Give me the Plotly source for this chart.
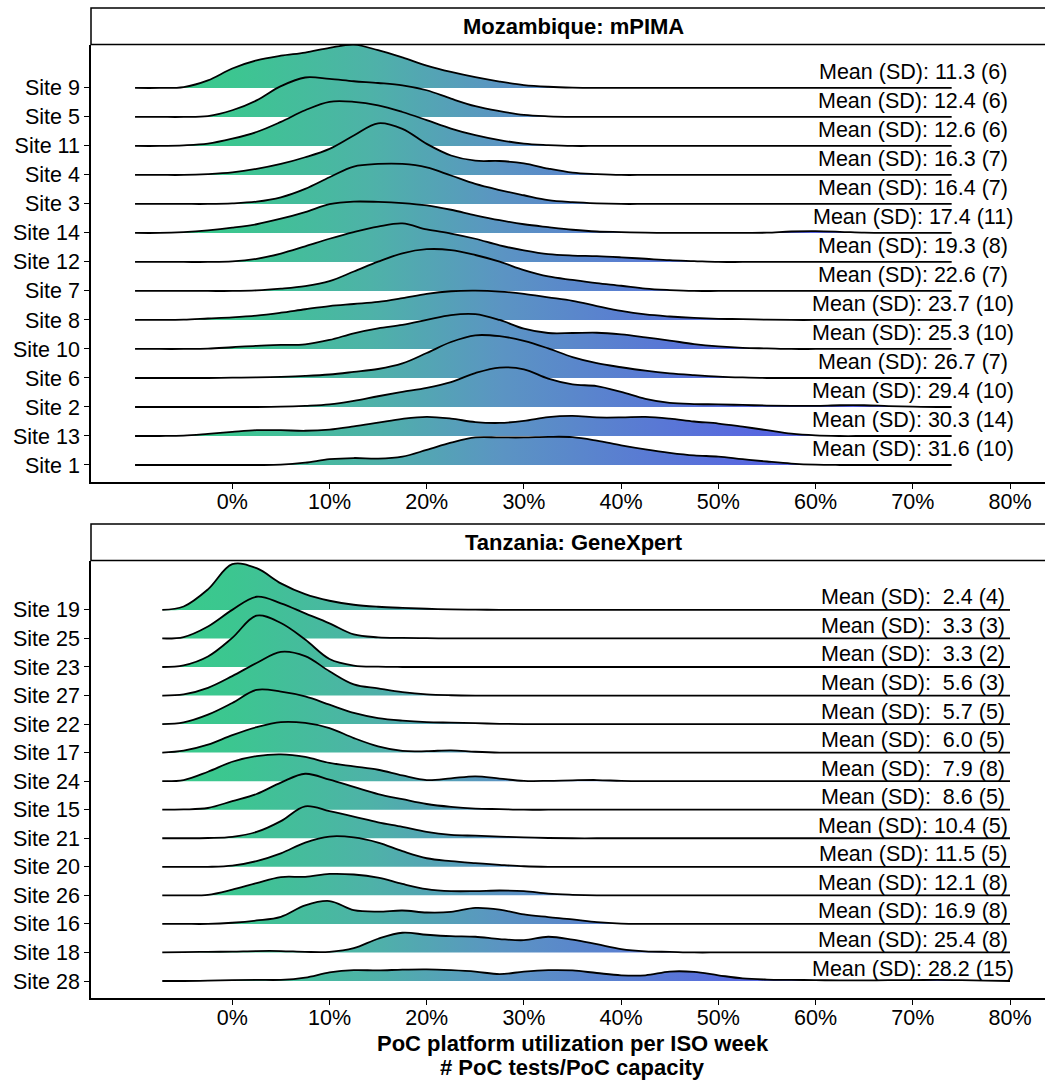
import plotly.graph_objects as go

# ---------------- data ----------------
MOZ_SITES = ["Site 9", "Site 5", "Site 11", "Site 4", "Site 3", "Site 14", "Site 12",
             "Site 7", "Site 8", "Site 10", "Site 6", "Site 2", "Site 13", "Site 1"]
MOZ_MEAN = [11.3, 12.4, 12.6, 16.3, 16.4, 17.4, 19.3, 22.6, 23.7, 25.3, 26.7, 29.4, 30.3, 31.6]
MOZ_SD = [6, 6, 6, 7, 7, 11, 8, 7, 10, 10, 7, 10, 14, 10]

TZ_SITES = ["Site 19", "Site 25", "Site 23", "Site 27", "Site 22", "Site 17", "Site 24",
            "Site 15", "Site 21", "Site 20", "Site 26", "Site 16", "Site 18", "Site 28"]
TZ_MEAN = [2.4, 3.3, 3.3, 5.6, 5.7, 6.0, 7.9, 8.6, 10.4, 11.5, 12.1, 16.9, 25.4, 28.2]
TZ_SD = [4, 3, 2, 3, 5, 5, 8, 5, 5, 5, 8, 8, 8, 15]

# x grid (% utilization) at which ridge heights were read
MOZ_X = [-10, -7.5, -5, -2.5, 0, 2.5, 5, 7.5, 10, 12.5, 15, 17.5, 20, 22.5, 25, 27.5,
         30, 32.5, 35, 37.5, 40, 42.5, 45, 47.5, 50, 52.5, 55, 57.5, 60, 62.5, 65,
         67.5, 70, 72.5, 74]
TZ_X = [-7.2, -5, -2.5, 0, 2.5, 5, 7.5, 10, 12.5, 15, 17.5, 20, 22.5, 25, 27.5, 30,
        32.5, 35, 37.5, 40, 42.5, 45, 47.5, 50, 52.5, 55, 57.5, 60, 62.5, 65, 67.5,
        70, 72.5, 75, 77.5, 80]

# scaled density heights (in ridge-row units); trailing zeros omitted
MOZ_SITE_9 = [0, 0, 0.03, 0.26, 0.67, 0.95, 1.11, 1.22, 1.38, 1.49, 1.3, 1.05, 0.77, 0.55, 0.37, 0.22, 0.1, 0.04, 0.01]
MOZ_SITE_5 = [0, 0, 0, 0.03, 0.23, 0.57, 1.06, 1.36, 1.31, 1.23, 1.17, 1.09, 0.92, 0.63, 0.37, 0.2, 0.07, 0.02]
MOZ_SITE_11 = [0, 0, 0.02, 0.08, 0.25, 0.48, 0.83, 1.23, 1.52, 1.52, 1.4, 1.17, 0.89, 0.6, 0.37, 0.2, 0.08, 0.03]
MOZ_SITE_4 = [0, 0, 0, 0.03, 0.09, 0.21, 0.38, 0.61, 0.9, 1.36, 1.78, 1.59, 1.07, 0.67, 0.49, 0.48, 0.4, 0.22, 0.08, 0.03]
MOZ_SITE_3 = [0, 0, 0, 0, 0.02, 0.08, 0.23, 0.52, 0.92, 1.29, 1.38, 1.38, 1.26, 0.98, 0.69, 0.48, 0.3, 0.13, 0.06, 0.02]
MOZ_SITE_14 = [0, 0, 0.03, 0.09, 0.18, 0.3, 0.49, 0.72, 0.99, 1.08, 1.07, 1.03, 0.95, 0.8, 0.61, 0.44, 0.3, 0.2, 0.11,
               0.05, 0.03, 0.01, 0, 0, 0, 0, 0.01, 0.05, 0.06, 0.04, 0.01]
MOZ_SITE_12 = [0, 0, 0, 0, 0.02, 0.11, 0.29, 0.54, 0.8, 1.03, 1.22, 1.33, 1.12, 0.98, 0.8, 0.57, 0.4, 0.27, 0.22,
               0.2, 0.16, 0.11, 0.06, 0.03]
MOZ_SITE_7 = [0, 0, 0, 0, 0, 0.02, 0.08, 0.17, 0.34, 0.67, 1.01, 1.3, 1.44, 1.41, 1.24, 1.01, 0.72, 0.5, 0.38,
              0.27, 0.18, 0.08, 0.03]
MOZ_SITE_8 = [0, 0, 0.01, 0.05, 0.09, 0.15, 0.25, 0.37, 0.48, 0.55, 0.62, 0.75, 0.9, 0.99, 1.01, 0.98, 0.9, 0.78,
              0.66, 0.48, 0.31, 0.19, 0.12, 0.07, 0.04, 0.03, 0.01]
MOZ_SITE_10 = [0, 0, 0, 0.01, 0.06, 0.11, 0.14, 0.16, 0.31, 0.54, 0.71, 0.83, 1.0, 1.17, 1.2, 1.0, 0.7, 0.55, 0.55,
               0.56, 0.5, 0.4, 0.29, 0.17, 0.09, 0.04, 0.02]
MOZ_SITE_6 = [0, 0, 0, 0, 0.01, 0.02, 0.04, 0.07, 0.12, 0.21, 0.31, 0.5, 0.86, 1.24, 1.47, 1.44, 1.28, 1.02, 0.72,
              0.51, 0.37, 0.25, 0.16, 0.1, 0.05, 0.02]
MOZ_SITE_2 = [0, 0, 0, 0, 0, 0, 0.01, 0.04, 0.09, 0.21, 0.37, 0.52, 0.66, 0.86, 1.17, 1.36, 1.3, 0.98, 0.78, 0.72,
              0.52, 0.28, 0.14, 0.1, 0.09, 0.07, 0.05, 0.04, 0.04, 0.06, 0.06, 0.03, 0.01]
MOZ_SITE_13 = [0, 0, 0.01, 0.07, 0.14, 0.2, 0.2, 0.18, 0.22, 0.33, 0.46, 0.59, 0.66, 0.6, 0.48, 0.45, 0.52, 0.65,
               0.69, 0.64, 0.64, 0.66, 0.6, 0.5, 0.43, 0.32, 0.2, 0.08, 0.02]
MOZ_SITE_1 = [0, 0, 0, 0, 0, 0, 0.01, 0.08, 0.2, 0.24, 0.22, 0.29, 0.52, 0.77, 0.95, 0.95, 0.95, 0.97, 0.96, 0.84,
              0.68, 0.54, 0.42, 0.33, 0.29, 0.2, 0.12, 0.05, 0.01]

TZ_SITE_19 = [0, 0.12, 0.72, 1.6, 1.46, 0.93, 0.55, 0.32, 0.18, 0.11, 0.07, 0.04, 0.02, 0.01]
TZ_SITE_25 = [0, 0.05, 0.42, 1.0, 1.46, 1.23, 0.88, 0.53, 0.14, 0.04, 0.02, 0.01]
TZ_SITE_23 = [0, 0.06, 0.37, 1.02, 1.8, 1.54, 0.96, 0.28, 0.05, 0.01]
TZ_SITE_27 = [0, 0.04, 0.27, 0.68, 1.14, 1.53, 1.38, 0.85, 0.39, 0.25, 0.12, 0.04, 0.01]
TZ_SITE_22 = [0, 0.06, 0.33, 0.74, 1.2, 1.14, 0.97, 0.68, 0.39, 0.21, 0.12, 0.07, 0.05, 0.03, 0.01]
TZ_SITE_17 = [0, 0.07, 0.28, 0.61, 0.89, 1.07, 1.04, 0.86, 0.51, 0.22, 0.06, 0.05, 0.08, 0.03]
TZ_SITE_24 = [0, 0.04, 0.33, 0.68, 0.88, 0.94, 0.85, 0.64, 0.52, 0.4, 0.2, 0.04, 0.1, 0.17, 0.09, 0.01, 0.01,
              0.03, 0.04, 0.01]
TZ_SITE_15 = [0, 0.01, 0.06, 0.3, 0.55, 0.95, 1.26, 1.05, 0.8, 0.55, 0.37, 0.2, 0.1, 0.04, 0.02]
TZ_SITE_21 = [0, 0, 0.01, 0.05, 0.22, 0.6, 1.12, 0.95, 0.76, 0.56, 0.4, 0.22, 0.12, 0.09, 0.06, 0.03, 0.01]
TZ_SITE_20 = [0, 0, 0, 0.04, 0.2, 0.47, 0.85, 1.06, 1.03, 0.85, 0.55, 0.3, 0.2, 0.13, 0.07, 0.02]
TZ_SITE_26 = [0, 0, 0.02, 0.2, 0.43, 0.64, 0.65, 0.75, 0.73, 0.62, 0.4, 0.22, 0.15, 0.15, 0.17, 0.15, 0.06, 0.02]
TZ_SITE_16 = [0, 0, 0, 0.04, 0.12, 0.25, 0.65, 0.8, 0.48, 0.43, 0.47, 0.4, 0.42, 0.56, 0.5, 0.33, 0.24, 0.16,
              0.06, 0.01]
TZ_SITE_18 = [0, 0.01, 0.02, 0.03, 0.05, 0.05, 0.02, 0.02, 0.15, 0.48, 0.69, 0.62, 0.57, 0.55, 0.47, 0.43, 0.55,
              0.45, 0.29, 0.12, 0.04, 0.02]
TZ_SITE_28 = [0, 0, 0.01, 0.03, 0.04, 0.04, 0.12, 0.3, 0.38, 0.37, 0.4, 0.41, 0.38, 0.33, 0.24, 0.33, 0.38, 0.37,
              0.28, 0.2, 0.2, 0.33, 0.32, 0.2, 0.09, 0.05, 0.04, 0.03, 0.02, 0.02, 0.03, 0.03, 0.04, 0.03, 0.01, 0]

MOZ_DENSITY = [MOZ_SITE_9, MOZ_SITE_5, MOZ_SITE_11, MOZ_SITE_4, MOZ_SITE_3, MOZ_SITE_14, MOZ_SITE_12,
               MOZ_SITE_7, MOZ_SITE_8, MOZ_SITE_10, MOZ_SITE_6, MOZ_SITE_2, MOZ_SITE_13, MOZ_SITE_1]
TZ_DENSITY = [TZ_SITE_19, TZ_SITE_25, TZ_SITE_23, TZ_SITE_27, TZ_SITE_22, TZ_SITE_17, TZ_SITE_24,
              TZ_SITE_15, TZ_SITE_21, TZ_SITE_20, TZ_SITE_26, TZ_SITE_16, TZ_SITE_18, TZ_SITE_28]

X_TICKS = [0, 10, 20, 30, 40, 50, 60, 70, 80]
X_TICK_LABELS = ["0%", "10%", "20%", "30%", "40%", "50%", "60%", "70%", "80%"]
PANEL_TITLES = ["Mozambique: mPIMA", "Tanzania: GeneXpert"]
X_TITLE = ["PoC platform utilization per ISO week", "# PoC tests/PoC capacity"]

# ---------------- style ----------------
W, H = 1045, 1081
FONT = "Liberation Sans, Arial, Helvetica, sans-serif"
FILL_SCALE = [[0.0, "rgb(54,206,136)"], [0.111, "rgb(60,198,144)"], [0.27, "rgb(78,178,168)"],
              [0.42, "rgb(91,148,195)"], [0.69, "rgb(88,106,222)"], [1.0, "rgb(72,72,236)"]]
GRAD_START, GRAD_STOP = -10, 80
SMOOTH = 1.0


def py(p):
    return 1 - p / H


fig = go.Figure()

panels = [
    dict(sites=MOZ_SITES, dens=MOZ_DENSITY, xs=MOZ_X, mean=MOZ_MEAN, sd=MOZ_SD, xa="x", ya="y", yshift=1.5),
    dict(sites=TZ_SITES, dens=TZ_DENSITY, xs=TZ_X, mean=TZ_MEAN, sd=TZ_SD, xa="x2", ya="y2", yshift=-1.5),
]

annotations = []
for pnl in panels:
    n = len(pnl["sites"])
    xs = pnl["xs"]
    for k, (site, h) in enumerate(zip(pnl["sites"], pnl["dens"])):
        base = n - 1 - k  # top row first so lower ridges are drawn in front
        h = list(h) + [0] * (len(xs) - len(h))
        top = [base + v for v in h]
        fig.add_trace(go.Scatter(
            x=xs + xs[::-1], y=top + [base] * len(xs),
            mode="lines", line=dict(width=0, shape="spline", smoothing=SMOOTH),
            fill="toself",
            fillgradient=dict(type="horizontal", colorscale=FILL_SCALE, start=GRAD_START, stop=GRAD_STOP),
            xaxis=pnl["xa"], yaxis=pnl["ya"], hoverinfo="skip", showlegend=False))
        fig.add_trace(go.Scatter(
            x=xs, y=top, mode="lines",
            line=dict(color="black", width=1.8, shape="spline", smoothing=SMOOTH),
            xaxis=pnl["xa"], yaxis=pnl["ya"], hoverinfo="skip", showlegend=False))
        txt = "Mean (SD): " + f"{pnl['mean'][k]:4.1f}".replace(" ", "\u00a0") + f" ({pnl['sd'][k]})"
        annotations.append(dict(
            x=70, y=base, xref=pnl["xa"], yref=pnl["ya"], text=txt, showarrow=False,
            xanchor="center", yanchor="bottom", yshift=pnl["yshift"],
            font=dict(family=FONT, size=21.5, color="black")))

# strip titles
shapes = []
for (top_px, bot_px), title in zip([(8, 44.5), (524, 560.5)], PANEL_TITLES):
    shapes.append(dict(type="rect", xref="paper", yref="paper", x0=91 / W, x1=1.02,
                       y0=py(bot_px), y1=py(top_px), line=dict(color="black", width=1.5),
                       fillcolor="white", layer="above"))
    annotations.append(dict(x=573.5 / W, y=py((top_px + bot_px) / 2), xref="paper", yref="paper",
                            text=f"<b>{title}</b>", showarrow=False, xanchor="center", yanchor="middle",
                            font=dict(family=FONT, size=22, color="black")))

# x-axis title (two lines)
for line, ypx in zip(X_TITLE, [1043, 1067]):
    annotations.append(dict(x=572.5 / W, y=py(ypx), xref="paper", yref="paper",
                            text=f"<b>{line}</b>", showarrow=False, xanchor="center", yanchor="middle",
                            font=dict(family=FONT, size=22, color="black")))

xcommon = dict(range=[-14.53, 83.6], domain=[91 / W, 1.0], showgrid=False, zeroline=False,
               showline=True, linecolor="black", linewidth=1.6, ticks="outside", ticklen=5,
               tickwidth=1.4, tickcolor="black", tickvals=X_TICKS, ticktext=X_TICK_LABELS,
               ticklabelstandoff=-5,
               tickfont=dict(family=FONT, size=21.5, color="black"), fixedrange=True)
ycommon = dict(showgrid=False, zeroline=False, showline=True, linecolor="black", linewidth=1.6,
               ticks="outside", ticklen=5, tickwidth=1.4, tickcolor="black",
               tickfont=dict(family=FONT, size=21.5, color="black"), fixedrange=True)

fig.update_layout(
    width=W, height=H, margin=dict(l=0, r=0, t=0, b=0),
    paper_bgcolor="white", plot_bgcolor="white", showlegend=False,
    xaxis=dict(anchor="y", **xcommon),
    xaxis2=dict(anchor="y2", **xcommon),
    yaxis=dict(anchor="x", domain=[py(481.7), py(45)], range=[-0.576, 14.48],
               tickvals=list(range(len(MOZ_SITES))), ticktext=MOZ_SITES[::-1], **ycommon),
    yaxis2=dict(anchor="x2", domain=[py(997.7), py(560.5)], range=[-0.585, 14.73],
                tickvals=list(range(len(TZ_SITES))), ticktext=TZ_SITES[::-1], **ycommon),
    shapes=shapes, annotations=annotations,
)

fig.write_html("out.html")
